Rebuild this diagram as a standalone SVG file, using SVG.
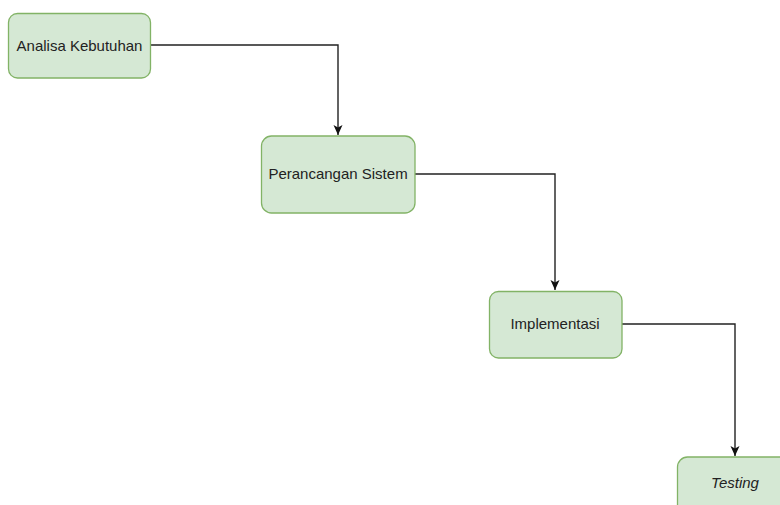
<svg xmlns="http://www.w3.org/2000/svg" width="780" height="505" viewBox="0 0 780 505">
<style>
.box{fill:#d5e8d4;stroke:#82b366;stroke-width:1.3}
.lbl{font-family:"Liberation Sans",Arial,sans-serif;font-size:15px;fill:#222;text-anchor:middle}
.edge{fill:none;stroke:#222;stroke-width:1.4}
</style>
<defs>
<marker id="arr" viewBox="0 0 10 10" refX="10" refY="5" markerWidth="10" markerHeight="10" markerUnits="userSpaceOnUse" orient="auto">
<path d="M0,0.5 L10,5 L0,9.5 L2.5,5 Z" fill="#111"/>
</marker>
</defs>
<rect width="780" height="505" fill="#fff"/>
<g id="edges">
<path class="edge" d="M151,45 H338 V135" marker-end="url(#arr)"/>
<path class="edge" d="M415,174 H555 V290" marker-end="url(#arr)"/>
<path class="edge" d="M622,324 H735 V456" marker-end="url(#arr)"/>
</g>
<g id="n1">
<rect class="box" x="8.5" y="13.5" width="142" height="64.5" rx="9"/>
<text class="lbl" x="79.5" y="50.5">Analisa Kebutuhan</text>
</g>
<g id="n2">
<rect class="box" x="261.5" y="136" width="153.5" height="77" rx="10"/>
<text class="lbl" x="338" y="179">Perancangan Sistem</text>
</g>
<g id="n3">
<rect class="box" x="489.5" y="291.5" width="132.5" height="66.5" rx="9"/>
<text class="lbl" x="555" y="329">Implementasi</text>
</g>
<g id="n4">
<rect class="box" x="677.5" y="457" width="140" height="70" rx="10"/>
<text class="lbl" x="735" y="488" font-style="italic">Testing</text>
</g>
</svg>
